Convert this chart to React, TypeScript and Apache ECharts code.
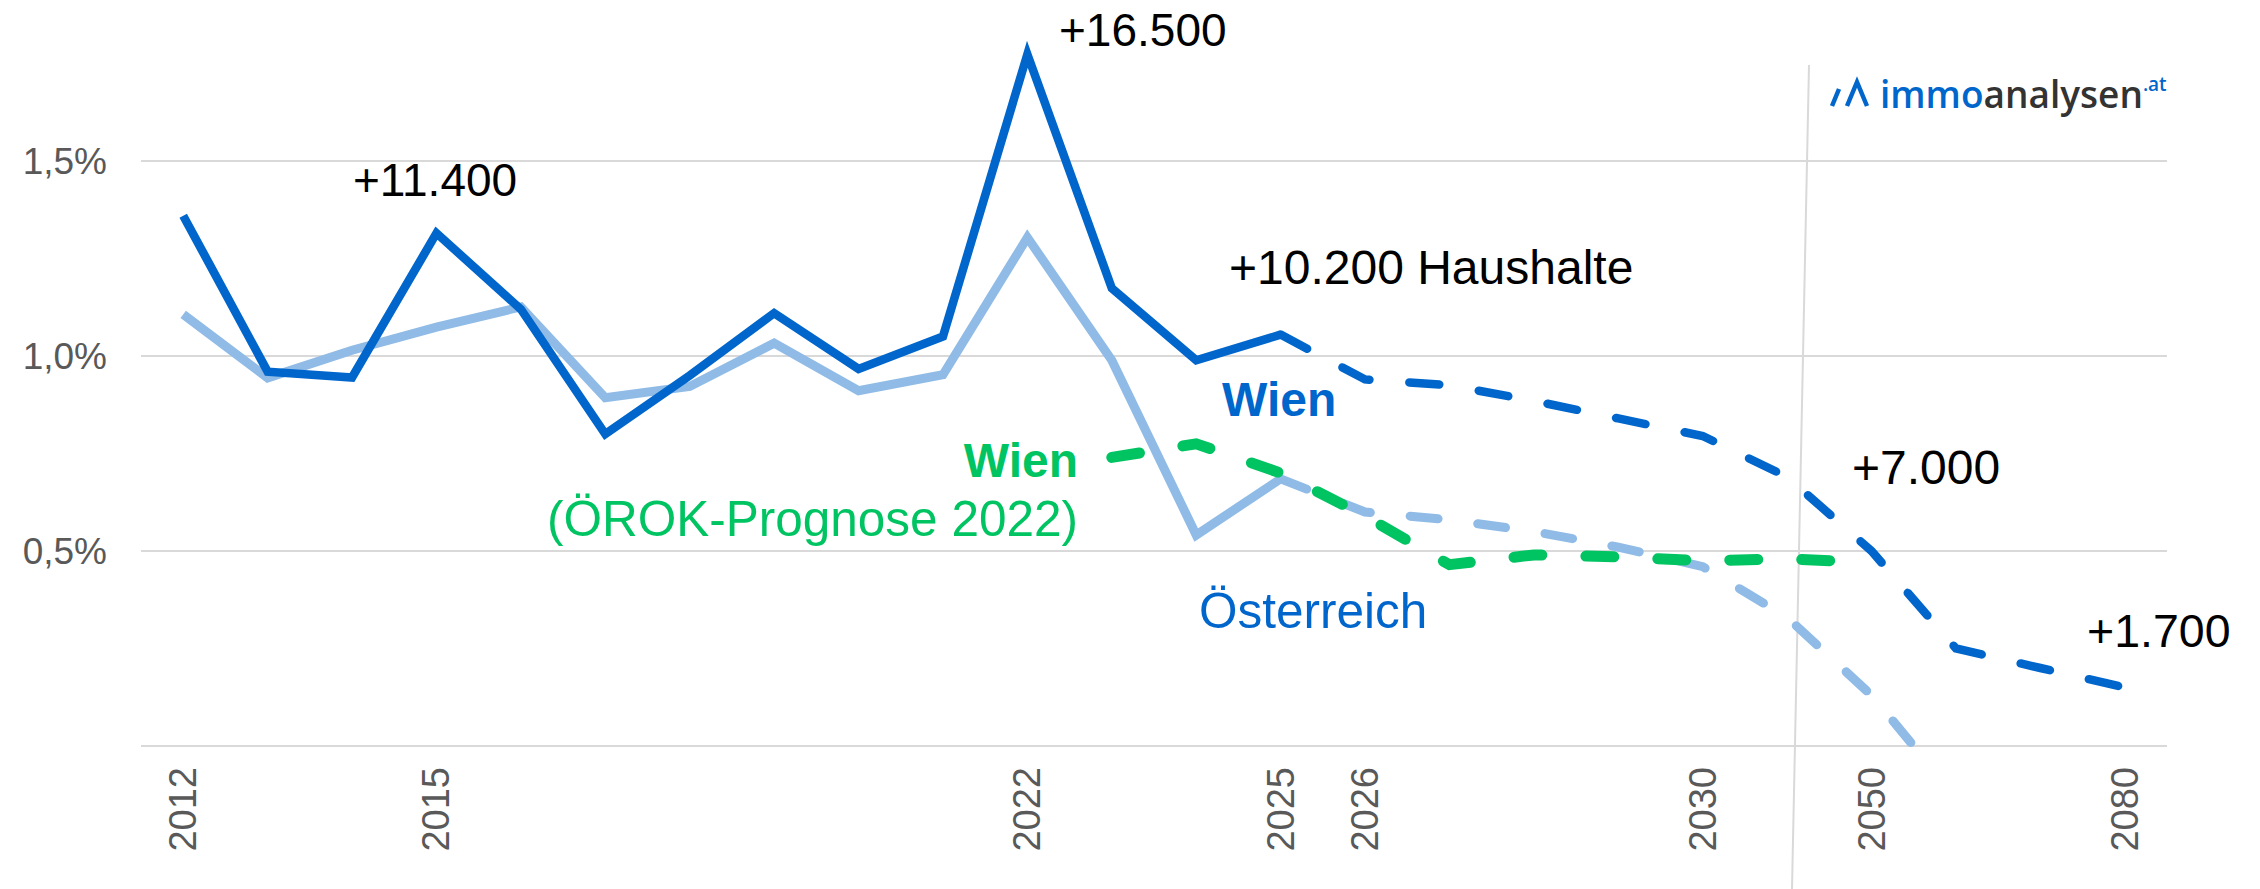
import React, { useEffect, useRef } from "react";
import * as echarts from "echarts";

// ---------- data ----------
const years = [
  "2012", "2013", "2014", "2015", "2016", "2017", "2018", "2019", "2020", "2021",
  "2022", "2023", "2024", "2025", "2026", "2027", "2028", "2029", "2030",
  "2040", "2050", "2060", "2070", "2080",
];
const shownYears = ["2012", "2015", "2022", "2025", "2026", "2030", "2050", "2080"];

// Wien, historical (solid)
const wienHist = [
  1.36, 0.96, 0.945, 1.315, 1.12, 0.8, 0.95, 1.11, 0.967, 1.05,
  1.774, 1.174, 0.989, 1.055, null, null, null, null, null,
  null, null, null, null, null,
];
// Wien, forecast (dashed)
const wienProg = [
  null, null, null, null, null, null, null, null, null, null,
  null, null, null, 1.055, 0.94, 0.925, 0.885, 0.84, 0.795,
  0.69, 0.5, 0.25, 0.2, 0.15,
];
// Österreich, historical (solid)
const oestHist = [
  1.107, 0.944, 1.015, 1.074, 1.126, 0.893, 0.922, 1.033, 0.911, 0.952,
  1.304, 0.989, 0.541, 0.685, null, null, null, null, null,
  null, null, null, null, null,
];
// Österreich, forecast (dashed)
const oestProg = [
  null, null, null, null, null, null, null, null, null, null,
  null, null, null, 0.685, 0.6, 0.58, 0.55, 0.51, 0.46,
  0.33, 0.13, -0.13, null, null,
];
// Wien, ÖROK-Prognose 2022 (dashed green)
const wienOerok = [
  null, null, null, null, null, null, null, null, null, null,
  null, 0.74, 0.775, 0.7, 0.59, 0.465, 0.49, 0.485, 0.475,
  0.48, 0.47, null, null, null,
];

const yTicks = { min: 0, max: 1.913, interval: 0.5 };

// ---------- styles ----------
const DARK = "#0066CC";
const LIGHT = "#8FBBE6";
const GREEN = "#00C462";
const GRID = "#D9D9D9";
const AXIS_TXT = "#595959";
const FONT = "'Liberation Sans', Arial, sans-serif";
const LOGO_FONT = "'Open Sans', sans-serif";

function txt(text: string, x: number, y: number, size: number, fill: string, weight: string | number = "normal", align = "left") {
  return {
    type: "text",
    x,
    y,
    z: 20,
    style: {
      text,
      fill,
      font: `${weight} ${size}px ${FONT}`,
      textAlign: align,
      textVerticalAlign: "middle",
      align,
      verticalAlign: "middle",
    },
  };
}

export default function App() {
  const ref = useRef<HTMLDivElement>(null);

  useEffect(() => {
    if (!ref.current) return;
    const chart = echarts.init(ref.current, undefined, { renderer: "svg" });

    const lineSeries = (name: string, data: (number | null)[], color: string, width: number, dash?: number[]) => ({
      name,
      type: "line",
      data,
      showSymbol: false,
      symbol: "none",
      connectNulls: false,
      clip: true,
      lineStyle: {
        color,
        width,
        type: dash ? dash : "solid",
        cap: dash ? "round" : "butt",
        join: "miter",
      },
      emphasis: { disabled: true },
    });

    chart.setOption({
      animation: false,
      backgroundColor: "#ffffff",
      textStyle: { fontFamily: FONT },
      grid: { left: 141, right: 93, top: 0, bottom: 143, containLabel: false },
      xAxis: {
        type: "category",
        data: years,
        boundaryGap: true,
        axisLine: { show: false },
        axisTick: { show: false },
        splitLine: { show: false },
        axisLabel: {
          interval: 0,
          rotate: 90,
          margin: 21,
          fontSize: 38,
          color: AXIS_TXT,
          fontFamily: FONT,
          formatter: (v: string) => (shownYears.includes(v) ? v : ""),
        },
      },
      yAxis: {
        type: "value",
        min: yTicks.min,
        max: yTicks.max,
        interval: yTicks.interval,
        axisLine: { show: false },
        axisTick: { show: false },
        splitLine: { show: true, showMaxLine: false, lineStyle: { color: GRID, width: 2 } },
        axisLabel: {
          margin: 34,
          fontSize: 37,
          color: AXIS_TXT,
          fontFamily: FONT,
          showMaxLabel: false,
          formatter: (v: number) => (v === 0 || v > 1.6 ? "" : v.toFixed(1).replace(".", ",") + "%"),
        },
      },
      series: [
        lineSeries("Österreich", oestHist, LIGHT, 9),
        lineSeries("Österreich Prognose", oestProg, LIGHT, 9, [28, 40]),
        lineSeries("Wien", wienHist, DARK, 8.5),
        lineSeries("Wien Prognose", wienProg, DARK, 8.5, [30, 40]),
        lineSeries("Wien (ÖROK-Prognose 2022)", wienOerok, GREEN, 11, [28, 44]),
      ],
      graphic: [
        {
          type: "line",
          z: 1,
          shape: { x1: 1809, y1: 65, x2: 1792, y2: 889 },
          style: { stroke: GRID, lineWidth: 2 },
        },
        txt("+11.400", 353, 180, 46, "#000"),
        txt("+16.500", 1059, 30, 46, "#000"),
        txt("+10.200 Haushalte", 1229, 267, 48, "#000"),
        txt("Wien", 1222, 399, 48, DARK, "bold"),
        txt("Wien", 1078, 460, 48, GREEN, "bold", "right"),
        txt("(ÖROK-Prognose 2022)", 1078, 518, 49.5, GREEN, "normal", "right"),
        txt("Österreich", 1199, 610, 49.5, DARK),
        txt("+7.000", 1852, 467, 48, "#000"),
        txt("+1.700", 2087, 631, 46.5, "#000"),
        // logo
        {
          type: "line",
          z: 20,
          shape: { x1: 1832, y1: 106, x2: 1839, y2: 89 },
          style: { stroke: DARK, lineWidth: 4.5 },
        },
        {
          type: "polyline",
          z: 20,
          shape: { points: [[1847, 106], [1857, 82], [1867, 106]] },
          style: { stroke: DARK, lineWidth: 4.5, fill: null },
        },
        {
          type: "text",
          x: 1880,
          y: 93,
          z: 20,
          style: {
            text: "{a|immo}{b|analysen}{c|.at}",
            textVerticalAlign: "middle",
            verticalAlign: "middle",
            rich: {
              a: { fill: DARK, fontSize: 37, fontWeight: 600, fontFamily: LOGO_FONT },
              b: { fill: "#333333", fontSize: 37, fontWeight: 600, fontFamily: LOGO_FONT },
              c: { fill: DARK, fontSize: 19, fontWeight: 600, fontFamily: LOGO_FONT, verticalAlign: "top" },
            },
          },
        },
      ],
    });

    return () => chart.dispose();
  }, []);

  return (
    <div
      ref={ref}
      style={{ position: "fixed", left: 0, top: 0, width: 2260, height: 889, background: "#fff" }}
    />
  );
}
